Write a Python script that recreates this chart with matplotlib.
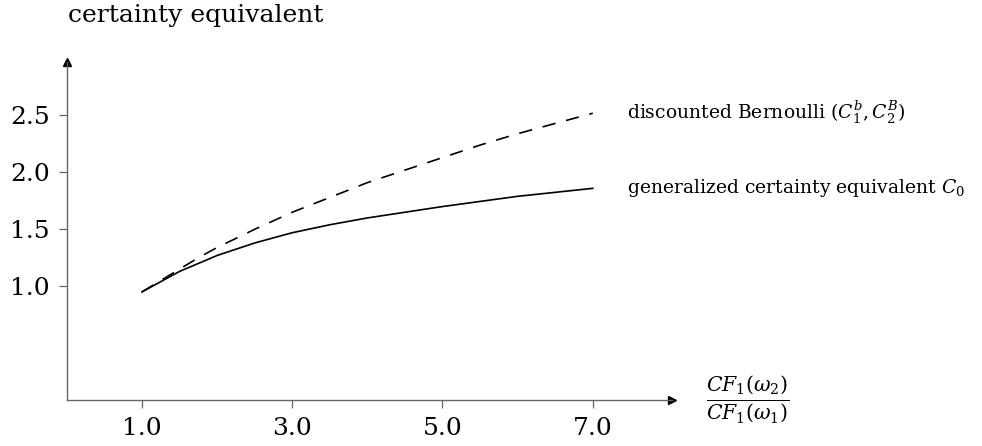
import matplotlib
matplotlib.use("Agg")
import matplotlib.pyplot as plt
import numpy as np

# ratio CF1(w2)/CF1(w1)
ratio = [1.0, 1.25, 1.5, 1.75, 2.0, 2.5, 3.0, 3.5, 4.0, 4.5, 5.0, 5.5, 6.0, 6.5, 7.0]
# generalized certainty equivalent C0
gen_ce = [0.95, 1.04, 1.13, 1.20, 1.27, 1.38, 1.47, 1.54, 1.60, 1.65, 1.70, 1.745, 1.79, 1.825, 1.86]
# discounted Bernoulli
disc_bern = [0.95, 1.05, 1.15, 1.25, 1.34, 1.50, 1.65, 1.78, 1.91, 2.02, 2.13, 2.24, 2.34, 2.43, 2.52]

xticks = [1.0, 3.0, 5.0, 7.0]
yticks = [1.0, 1.5, 2.0, 2.5]

plt.rcParams['font.family'] = ['DejaVu Serif']
plt.rcParams['mathtext.fontset'] = 'dejavuserif'

fig = plt.figure(figsize=(9.82, 4.46), dpi=100)
ax = fig.add_axes([0.068, 0.103, 0.616, 0.758])

ax.plot(ratio, gen_ce, color='black', lw=1.2)
l, = ax.plot(ratio, disc_bern, color='black', lw=1.2)
l.set_dashes([8, 6.5])

ax.set_xlim(0, 8.05)
ax.set_ylim(0, 2.97)
ax.spines['top'].set_visible(False)
ax.spines['right'].set_visible(False)
for s in ['left', 'bottom']:
    ax.spines[s].set_color('#666666')
    ax.spines[s].set_linewidth(1.0)

# arrow heads
ax.plot(1, 0, '>', color='black', ms=6, transform=ax.transAxes, clip_on=False)
ax.plot(0, 1, '^', color='black', ms=6, transform=ax.transAxes, clip_on=False)

ax.set_xticks(xticks)
ax.set_xticklabels(['%.1f' % v for v in xticks])
ax.set_yticks(yticks)
ax.set_yticklabels(['%.1f' % v for v in yticks])
ax.tick_params(axis='both', direction='out', length=6, width=0.9, color='#666666',
               labelsize=18, pad=6)

fig.text(0.069, 0.965, 'certainty equivalent', fontsize=18, ha='left', va='center')

ax.text(7.45, 2.52, r'discounted Bernoulli ($C_1^b, C_2^B$)', fontsize=13.5,
        ha='left', va='center')
ax.text(7.45, 1.86, r'generalized certainty equivalent $C_0$', fontsize=13.5,
        ha='left', va='center')
ax.text(8.5, 0.0, r'$\frac{CF_1(\omega_2)}{CF_1(\omega_1)}$', fontsize=21,
        ha='left', va='center')

fig.savefig('out.png', dpi=100)
